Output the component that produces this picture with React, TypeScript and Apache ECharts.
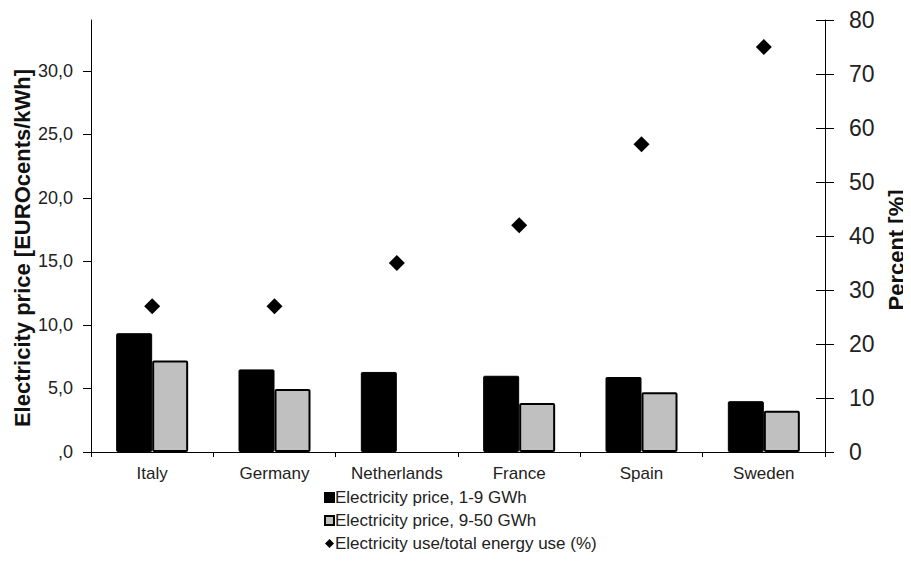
import React, { useEffect, useRef } from "react";
import * as echarts from "echarts";

const countries = ["Italy", "Germany", "Netherlands", "France", "Spain", "Sweden"];
const priceSmall = [9.35, 6.5, 6.3, 6.0, 5.9, 4.0]; // 1-9 GWh
const priceLarge: (number | null)[] = [7.2, 4.95, null, 3.85, 4.7, 3.25]; // 9-50 GWh
const electricityShare = [27, 27, 35, 42, 57, 75]; // % of total energy use
const priceTicks = [0, 5, 10, 15, 20, 25, 30];

const FONT = "Liberation Sans, Arial, sans-serif";
const TEXT = "#222";

export default function App() {
  const ref = useRef<HTMLDivElement>(null);

  useEffect(() => {
    if (!ref.current) return;
    const chart = echarts.init(ref.current, undefined, { renderer: "svg" });
    chart.setOption({
      animation: false,
      backgroundColor: "#fff",
      textStyle: { fontFamily: FONT },
      grid: { left: 91, right: 86, top: 20, bottom: 124 },
      legend: {
        orient: "vertical",
        left: 319,
        top: 484,
        itemWidth: 9,
        itemHeight: 9,
        itemGap: 6,
        textStyle: { fontSize: 17, color: TEXT, fontFamily: FONT, padding: [0, 0, 0, -4] },
        data: [
          { name: "Electricity price, 1-9 GWh", icon: "rect" },
          { name: "Electricity price, 9-50 GWh", icon: "rect" },
          { name: "Electricity use/total energy use (%)", icon: "diamond" },
        ],
      },
      xAxis: {
        type: "category",
        data: countries,
        axisLine: { lineStyle: { color: "#000", width: 1 } },
        axisTick: { show: true, length: 5, inside: false, lineStyle: { color: "#000" } },
        axisLabel: { interval: 0, fontSize: 17, color: TEXT, margin: 13, fontFamily: FONT },
      },
      yAxis: [
        {
          type: "value",
          position: "left",
          min: 0,
          max: 34,
          splitLine: { show: false },
          axisLine: { show: true, lineStyle: { color: "#000" } },
          axisTick: { show: true, length: 8, customValues: priceTicks, lineStyle: { color: "#000" } },
          axisLabel: {
            customValues: priceTicks,
            fontSize: 18,
            color: TEXT,
            margin: 18,
            fontFamily: FONT,
            formatter: (v: number) => (v === 0 ? ",0" : v.toFixed(1).replace(".", ",")),
          },
        },
        {
          type: "value",
          position: "right",
          min: 0,
          max: 80,
          interval: 10,
          splitLine: { show: false },
          axisLine: { show: true, lineStyle: { color: "#000" } },
          axisTick: { show: true, length: 9, lineStyle: { color: "#000" } },
          axisLabel: { fontSize: 23, color: TEXT, margin: 24, fontFamily: FONT },
        },
        {
          type: "value",
          position: "right",
          min: 0,
          max: 80,
          interval: 10,
          splitLine: { show: false },
          axisLine: { show: false },
          axisTick: { show: true, inside: true, length: 9, lineStyle: { color: "#000" } },
          axisLabel: { show: false },
        },
      ],
      series: [
        {
          name: "Electricity price, 1-9 GWh",
          type: "bar",
          yAxisIndex: 0,
          data: priceSmall,
          barWidth: 36,
          barGap: "0%",
          itemStyle: { color: "#000", borderColor: "#000", borderWidth: 1, borderRadius: 1 },
        },
        {
          name: "Electricity price, 9-50 GWh",
          type: "bar",
          yAxisIndex: 0,
          data: priceLarge.map((v) => (v === null ? "-" : v)),
          barWidth: 36,
          barGap: "0%",
          itemStyle: { color: "#c0c0c0", borderColor: "#000", borderWidth: 2, borderRadius: 1 },
        },
        {
          name: "Electricity use/total energy use (%)",
          type: "scatter",
          yAxisIndex: 1,
          data: electricityShare,
          symbol: "diamond",
          symbolSize: 16,
          itemStyle: { color: "#000", opacity: 1 },
        },
      ],
      graphic: [
        {
          type: "text",
          x: 22,
          y: 248,
          rotation: Math.PI / 2,
          style: {
            text: "Electricity price [EUROcents/kWh]",
            fontSize: 22,
            fontWeight: "bold",
            fontFamily: FONT,
            fill: "#111",
            align: "center",
            verticalAlign: "middle",
          },
        },
        {
          type: "text",
          x: 896,
          y: 250,
          rotation: Math.PI / 2,
          style: {
            text: "Percent [%]",
            fontSize: 22,
            fontWeight: "bold",
            fontFamily: FONT,
            fill: "#111",
            align: "center",
            verticalAlign: "middle",
          },
        },
      ],
    });
    return () => chart.dispose();
  }, []);

  return <div ref={ref} style={{ width: 911, height: 576, margin: -8 }} />;
}
